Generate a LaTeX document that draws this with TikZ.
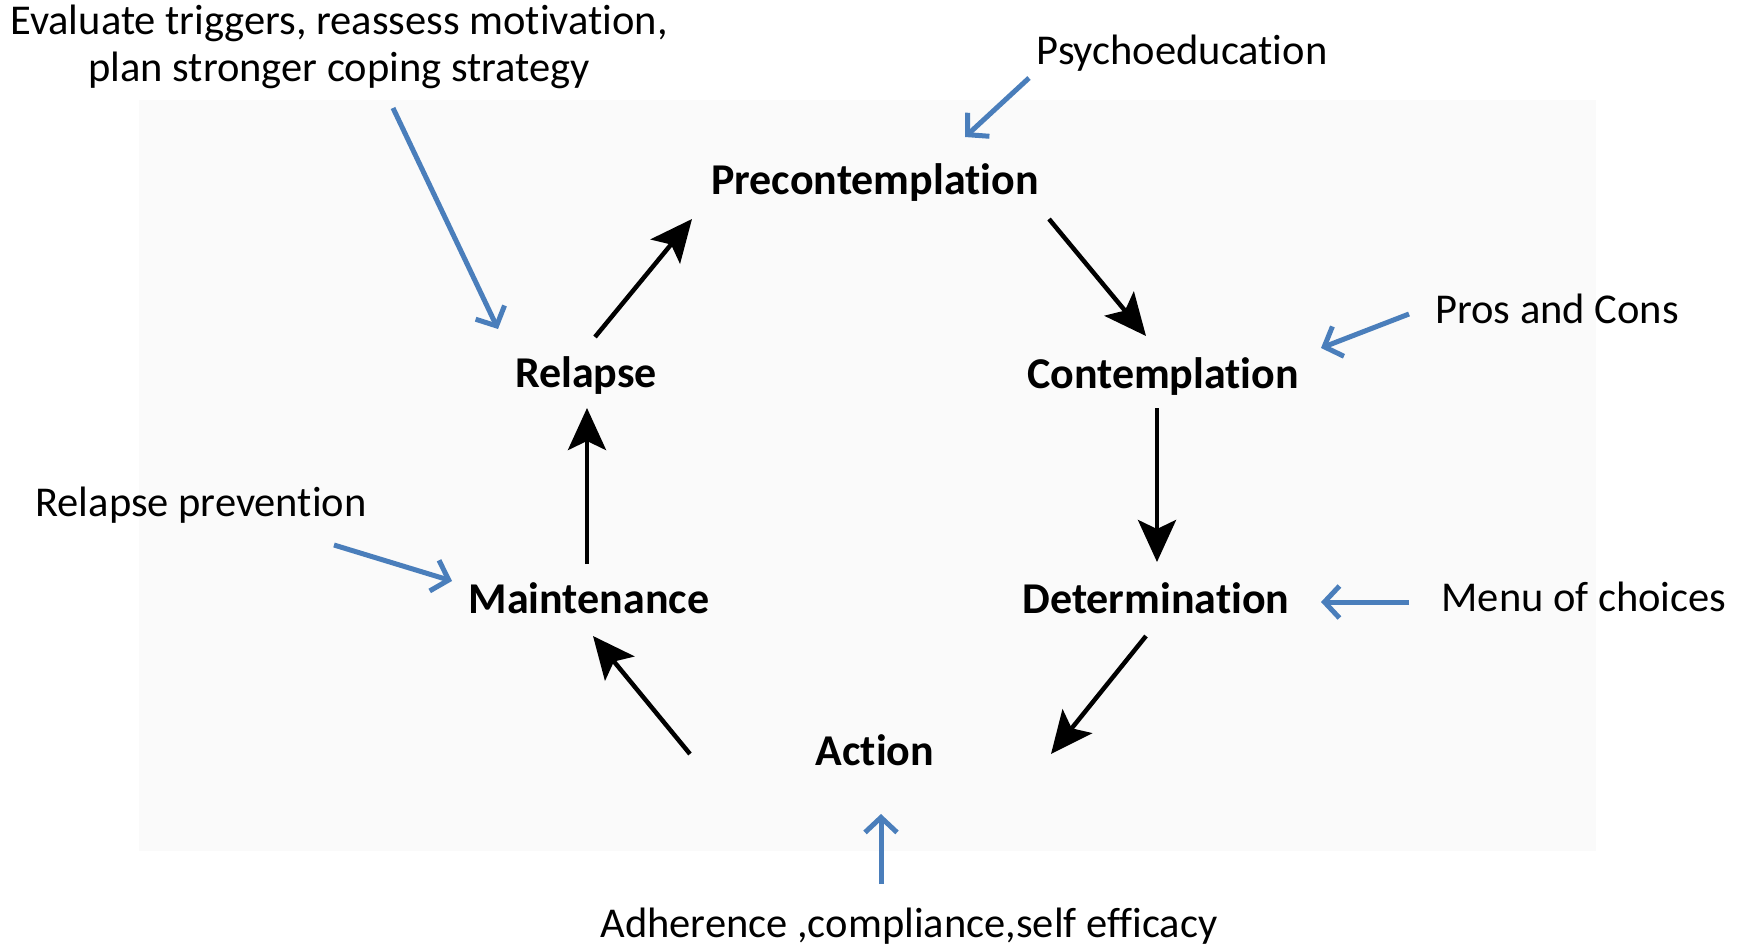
\documentclass[tikz,border=0pt]{standalone}
\usepackage{fontspec}
\setmainfont[Ligatures=NoCommon]{Carlito}
\usetikzlibrary{arrows.meta}
\definecolor{officeblue}{HTML}{4A7EBB}
\definecolor{panel}{HTML}{FAFAFA}
\tikzset{
  stage/.style={font=\fontsize{44}{50}\selectfont\bfseries, inner sep=0pt},
  note/.style={font=\fontsize{42.5}{47}\selectfont, inner sep=0pt, align=center},
  blk/.style={line width=4.5pt, -{Stealth[length=42pt,width=38pt,inset=9pt]}},
  blu/.style={officeblue, line width=5pt, -{Straight Barb[length=15pt,width=32pt,line width=5pt]}},
}
\begin{document}
\begin{tikzpicture}[x=1pt,y=-1pt]
\useasboundingbox (0,0) rectangle (1744,945);
\fill[panel] (139,100) rectangle (1596,851);
% stages
\node[stage] (pre) at (875,183) {Precontemplation};
\node[stage] (con) at (1163,377) {Contemplation};
\node[stage] (det) at (1156,598) {Determination};
\node[stage] (act) at (875,750) {Action};
\node[stage] (mai) at (589,598) {Maintenance};
\node[stage] (rel) at (586,376) {Relapse};
% black cycle arrows
\draw[blk] ([shift={(9,-39)}]rel.center) -- ([shift={(-183,36)}]pre.center);
\draw[blk] ([shift={(174,36)}]pre.center) -- ([shift={(-17,-41)}]con.center);
\draw[blk] ([shift={(-6,31)}]con.center) -- ([shift={(1,-36)}]det.center);
\draw[blk] ([shift={(-10,38)}]det.center) -- ([shift={(176,4)}]act.center);
\draw[blk] ([shift={(-185,4)}]act.center) -- ([shift={(4,38)}]mai.center);
\draw[blk] ([shift={(-2,-34)}]mai.center) -- ([shift={(1,32)}]rel.center);
% notes
\node[note] (psy) at (1182,53) {Psychoeducation};
\node[note] (eva) at (339,47) {Evaluate triggers, reassess motivation,\\plan stronger coping strategy};
\node[note] (pro) at (1557,309) {Pros and Cons};
\node[note] (men) at (1584,597) {Menu of choices};
\node[note] (adh) at (909,926) {Adherence ,compliance,self efficacy};
\node[note] (rp) at (201,505) {Relapse prevention};
% blue arrows
\coordinate (psyS) at (1029,78);
\coordinate (evaS) at (393,108);
\coordinate (proS) at (1409,314);
\coordinate (menS) at (1409,602);
\coordinate (adhS) at (881,884);
\coordinate (rpS) at (334,545);
\draw[blu] (psyS) -- ([shift={(90,-46)}]pre.center);
\draw[blu] (evaS) -- ([shift={(-88,-47)}]rel.center);
\draw[blu] (proS) -- ([shift={(158,-29)}]con.center);
\draw[blu] (menS) -- ([shift={(165,4)}]det.center);
\draw[blu] (adhS) -- ([shift={(6,64)}]act.center);
\draw[blu] (rpS) -- ([shift={(-137,-17)}]mai.center);
\end{tikzpicture}
\end{document}
